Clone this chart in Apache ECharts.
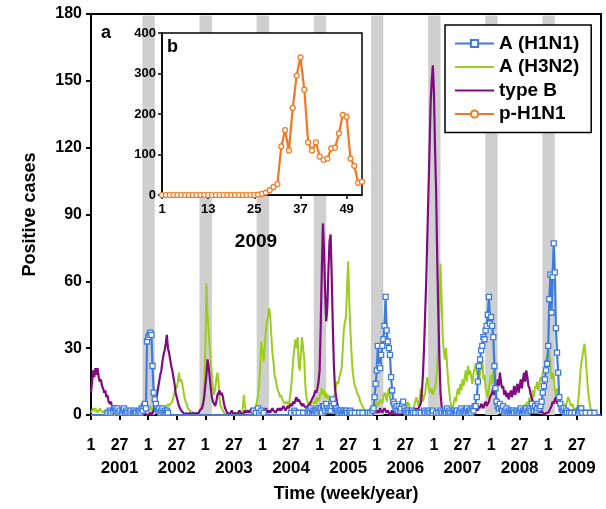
<!DOCTYPE html>
<html><head><meta charset="utf-8">
<script src="https://cdn.jsdelivr.net/npm/echarts@6/dist/echarts.min.js"></script>
<style>html,body{margin:0;padding:0;background:#fff}#c{width:606px;height:509px}</style>
</head><body><div id="c"></div>
<script>
// weekly positive cases, week index 0 = week 1 of 2001
const h1n1 = [
/*2001*/0,0,0,0,0,0,0,0,0,0,0,0,0,0,0,1,0,2,1,0,2,3,3,2,3,1,2,0,1,2,3,1,2,1,0,1,2,0,1,2,1,1,0,1,2,1,3,2,4,5,3,33,
/*2002*/35,36,37,36,22,10,7,5,3,2,3,1,2,3,1,2,1,2,1,0,0,0,0,0,0,0,0,0,0,0,0,0,0,0,0,0,0,0,0,0,0,0,0,0,0,0,0,0,0,0,0,0,
/*2003*/0,0,0,0,0,0,0,0,0,0,0,0,0,0,0,0,0,0,0,0,0,0,0,0,0,0,0,0,0,0,0,0,0,0,0,0,0,0,0,0,0,0,0,0,2,0,1,0,3,1,0,2,
/*2004*/0,1,0,0,0,0,0,0,0,0,0,0,0,0,0,0,0,0,0,0,0,0,0,0,0,0,1,0,0,2,1,0,0,1,0,0,0,1,0,0,0,1,2,1,3,1,2,1,2,2,1,3,
/*2005*/2,3,1,4,4,2,5,3,2,3,2,4,7,5,3,3,2,1,2,2,1,1,2,1,2,1,0,1,2,1,0,0,1,0,0,0,1,0,0,1,0,0,0,0,1,0,1,0,2,3,8,14,
/*2006*/20,31,22,21,27,31,34,40,53,38,33,30,27,17,11,6,5,3,4,2,4,2,3,5,6,3,2,1,2,1,0,1,2,1,0,1,0,0,1,0,1,0,0,2,1,0,1,2,1,0,1,2,
/*2007*/0,0,1,0,1,0,2,1,0,1,2,1,3,1,2,1,0,1,2,1,1,2,0,1,2,3,1,2,1,2,3,1,2,2,1,3,2,4,4,8,15,22,25,29,31,35,34,38,40,45,53,41,
/*2008*/44,40,35,22,12,6,4,3,5,3,2,4,1,2,3,1,2,1,2,1,2,1,0,1,2,1,2,3,1,2,1,2,3,1,2,3,2,5,3,2,4,2,3,5,3,4,6,10,13,16,20,23,
/*2009*/31,52,63,46,62,77,64,39,28,19,8,5,3,2,3,1,2,1,0,1,0,1,0,0,1,0,0,1,2,3,3,1,0,0,1,0,0,0,1,0,0,0,1,0,0,0,0,0,0
];
const h3n2 = [
/*2001*/1,2,3,2,3,2,1,2,3,2,2,1,2,1,1,0,1,0,0,1,0,0,0,1,0,0,0,0,1,0,0,0,0,0,1,0,0,0,0,1,0,1,1,0,1,1,2,1,2,2,3,2,
/*2002*/3,2,4,3,2,3,5,4,3,2,3,2,3,2,3,4,3,4,5,4,5,5,6,8,10,13,12,15,19,15,16,14,11,8,6,5,3,3,2,2,1,1,1,0,1,1,1,2,3,4,6,13,
/*2003*/28,59,45,38,30,25,18,12,9,12,16,19,15,7,4,3,2,1,0,1,0,0,1,0,0,0,1,0,0,1,0,0,1,0,3,9,4,2,1,1,2,1,2,3,2,3,4,6,9,14,22,33,
/*2004*/28,24,30,37,42,44,48,45,36,28,24,18,16,13,11,10,8,9,7,6,5,6,5,6,4,8,12,18,25,30,34,30,35,22,20,28,35,30,25,13,8,6,5,4,5,6,6,5,7,5,8,6,
/*2005*/8,10,12,9,11,8,10,7,9,6,8,6,7,8,10,13,15,14,17,19,21,29,38,42,44,58,69,50,38,28,20,16,13,12,10,10,8,6,5,4,3,2,2,1,1,0,1,0,1,2,3,5,
/*2006*/6,4,5,7,6,5,8,10,9,6,10,12,8,6,4,2,1,2,3,2,3,5,6,4,7,5,3,4,6,5,3,2,3,2,4,6,8,6,4,7,12,9,6,8,10,14,17,13,11,10,12,9,
/*2007*/9,12,15,22,32,48,68,52,35,28,25,30,22,15,10,6,4,3,5,8,6,10,12,9,14,11,16,13,17,20,15,22,18,20,17,14,19,21,23,18,20,15,19,22,25,16,18,12,10,8,12,15,
/*2008*/18,14,20,13,10,8,6,4,3,2,3,2,1,2,1,1,2,1,0,1,2,1,1,2,1,2,3,2,3,4,3,5,4,6,5,8,6,9,11,8,13,12,15,11,14,17,15,19,20,22,25,27,
/*2009*/28,29,22,16,19,17,12,8,12,7,5,4,3,2,3,5,4,6,8,7,5,4,5,3,2,3,2,5,10,18,23,26,29,32,26,19,12,8,4,2,1,1,0,0,0,0,0,0,0
];
const typeB = [
/*2001*/10,15,20,17,21,18,21,17,15,16,13,12,10,11,8,9,6,5,6,4,3,2,2,1,1,1,0,1,0,0,1,0,0,0,0,1,0,0,0,0,0,0,1,0,0,0,0,0,0,1,0,0,
/*2002*/0,0,1,0,1,2,4,6,9,12,15,18,20,24,27,29,32,36,30,28,25,22,20,17,14,10,8,6,4,3,2,2,1,1,0,1,0,0,1,0,0,1,0,0,1,0,1,2,2,3,5,8,
/*2003*/8,18,25,22,17,12,8,6,5,4,6,9,10,11,9,10,8,5,3,2,1,1,0,1,2,1,0,1,1,0,1,2,1,1,0,1,2,1,1,2,1,2,3,2,1,2,3,2,1,2,3,2,
/*2004*/2,1,2,3,2,1,2,1,2,3,2,2,1,2,3,2,3,2,3,4,3,2,3,4,3,4,5,4,6,5,7,8,6,7,6,5,4,5,4,4,3,4,4,5,6,7,8,9,11,10,12,15,
/*2005*/20,40,65,86,74,55,42,48,65,78,81,62,40,22,12,8,5,3,2,2,1,1,1,0,1,0,0,1,0,0,1,0,0,0,1,0,0,0,1,0,0,0,1,0,0,1,0,1,0,1,1,2,
/*2006*/1,2,1,3,2,1,2,3,2,1,2,1,0,1,2,1,0,1,1,0,1,0,1,1,2,1,0,1,2,1,1,2,1,2,3,2,3,2,3,4,5,10,18,30,45,60,80,100,120,140,150,157,
/*2007*/145,120,100,70,45,25,10,4,2,1,0,1,0,0,1,0,0,1,0,0,1,0,1,0,0,1,0,1,1,0,1,2,1,1,2,1,2,3,2,3,2,4,3,5,4,3,5,6,4,5,6,8,
/*2008*/8,10,12,9,14,11,16,13,19,15,12,13,9,11,8,10,7,9,11,8,10,13,9,12,14,10,13,16,12,16,19,15,20,17,13,12,9,8,6,4,3,2,2,1,2,1,2,1,1,0,1,1,
/*2009*/1,2,3,4,6,5,7,8,5,6,4,3,2,1,1,0,1,0,0,1,0,0,0,1,0,0,0,0,1,0,0,0,0,0,0,1,0,0,0,0,0,0,0,0,0,0,0,0,0
];
// inset b: p-H1N1, weeks 1..53 of 2009
const pH1N1 = [0,0,0,0,0,0,0,0,0,0,0,0,0,0,0,0,0,0,0,0,0,0,0,0,0,
  1,3,6,12,20,27,120,160,110,215,295,340,260,130,110,130,95,87,90,115,117,152,198,193,90,72,30,33];

const years = ['2001','2002','2003','2004','2005','2006','2007','2008','2009'];
const mainTicks = [];
for (let w = 0; w <= 442; w += 26) mainTicks.push(w);
const insetTicks = [1, 13, 25, 37, 49];
const bandYears = [1,2,3,4,5,6,7,8];

const F = '"Liberation Sans", Arial, sans-serif';
const BLUE = '#3d7be0', GREEN = '#9acd1e', PURPLE = '#810a81', ORANGE = '#f5761e';

const chart = echarts.init(document.getElementById('c'), null, {renderer: 'canvas'});
const lbl = {color: '#000', fontFamily: F, fontWeight: 'bold'};

chart.setOption({
  animation: false,
  textStyle: {fontFamily: F},
  grid: [
    {left: 91, top: 14, right: 5, bottom: 94, show: true, borderColor: '#000', borderWidth: 2},
    {left: 162, top: 33, width: 200, height: 162, show: true, backgroundColor: '#fff', borderColor: '#000', borderWidth: 1.5, z: 3}
  ],
  xAxis: [
    {type: 'value', gridIndex: 0, min: 0, max: 464,
     axisLine: {lineStyle: {color: '#000', width: 2}},
     axisTick: {customValues: mainTicks, length: 5, lineStyle: {color: '#000', width: 2}},
     axisLabel: Object.assign({}, lbl, {customValues: mainTicks, fontSize: 16, lineHeight: 23, margin: 19,
       formatter: v => (v % 52 === 0) ? '1' : '27\n{y|' + years[Math.floor(v / 52)] + '}',
       rich: {y: {fontSize: 17, fontWeight: 'bold', lineHeight: 23, color: '#000', fontFamily: F}}}),
     splitLine: {show: false},
     name: 'Time (week/year)', nameLocation: 'middle', nameGap: 70,
     nameTextStyle: Object.assign({}, lbl, {fontSize: 18})},
    {type: 'value', gridIndex: 1, min: 1, max: 53, z: 4,
     axisLine: {lineStyle: {color: '#000', width: 1.5}},
     axisTick: {customValues: insetTicks, length: 4, lineStyle: {color: '#000', width: 1.5}},
     axisLabel: Object.assign({}, lbl, {customValues: insetTicks, fontSize: 13, margin: 8}),
     splitLine: {show: false},
     name: '2009', nameLocation: 'middle', nameGap: 37,
     nameTextStyle: Object.assign({}, lbl, {fontSize: 19, padding: [0, 12, 0, 0]})}
  ],
  yAxis: [
    {type: 'value', gridIndex: 0, min: 0, max: 180, interval: 30,
     axisLine: {show: true, lineStyle: {color: '#000', width: 2}},
     axisTick: {show: true, length: 5, lineStyle: {color: '#000', width: 2}},
     axisLabel: Object.assign({}, lbl, {fontSize: 16, margin: 9}),
     splitLine: {show: false},
     name: 'Positive cases', nameLocation: 'middle', nameGap: 52,
     nameTextStyle: Object.assign({}, lbl, {fontSize: 18})},
    {type: 'value', gridIndex: 1, min: 0, max: 400, interval: 100, z: 4,
     axisLine: {show: true, lineStyle: {color: '#000', width: 1.5}},
     axisTick: {show: true, length: 4, lineStyle: {color: '#000', width: 1.5}},
     axisLabel: Object.assign({}, lbl, {fontSize: 13, margin: 6}),
     splitLine: {show: false}}
  ],
  legend: {
    data: [
      {name: 'A (H1N1)'},
      {name: 'A (H3N2)', itemStyle: {opacity: 0}},
      {name: 'type B', itemStyle: {opacity: 0}},
      {name: 'p-H1N1'}
    ],
    orient: 'vertical', left: 445, top: 25,
    padding: [9, 12, 9, 9], itemGap: 4.5, itemWidth: 39, itemHeight: 9,
    backgroundColor: '#fff', borderColor: '#000', borderWidth: 1.5,
    textStyle: Object.assign({}, lbl, {fontSize: 19}), z: 6
  },
  series: [
    {type: 'line', name: 'bands', xAxisIndex: 0, yAxisIndex: 0, data: [[0, 0]], symbol: 'none',
     lineStyle: {opacity: 0}, silent: true, z: 1,
     markArea: {silent: true, itemStyle: {color: '#cfcfcf'},
       data: bandYears.map(k => [{xAxis: 52 * k - 5.3, yAxis: 0}, {xAxis: 52 * k + 6, yAxis: 179.3}])}},
    {type: 'line', name: 'A (H3N2)', xAxisIndex: 0, yAxisIndex: 0, z: 2,
     data: h3n2.map((v, i) => [i, v]), symbol: 'none', showSymbol: false,
     lineStyle: {color: GREEN, width: 2}, itemStyle: {color: GREEN}},
    {type: 'line', name: 'type B', xAxisIndex: 0, yAxisIndex: 0, z: 3,
     data: typeB.map((v, i) => [i, v]), symbol: 'none', showSymbol: false,
     lineStyle: {color: PURPLE, width: 2.2}, itemStyle: {color: PURPLE}},
    {type: 'line', name: 'A (H1N1)', xAxisIndex: 0, yAxisIndex: 0, z: 4,
     data: h1n1.map((v, i) => ({value: [i, v], symbol: v > 0 ? 'rect' : 'none'})),
     symbol: 'rect', symbolSize: 5,
     lineStyle: {color: BLUE, width: 2.2}, itemStyle: {color: '#fff', borderColor: BLUE, borderWidth: 1.3}},
    {type: 'line', name: 'p-H1N1', xAxisIndex: 1, yAxisIndex: 1, z: 5,
     data: pH1N1.map((v, i) => [i + 1, v]), symbol: 'circle', symbolSize: 5,
     lineStyle: {color: ORANGE, width: 2.2}, itemStyle: {color: '#fff', borderColor: ORANGE, borderWidth: 1.2}}
  ],
  graphic: [
    {type: 'text', left: 101, top: 24, z: 10, style: {text: 'a', font: 'bold 18px "Liberation Sans", Arial', fill: '#000'}},
    {type: 'text', left: 167, top: 38, z: 10, style: {text: 'b', font: 'bold 18px "Liberation Sans", Arial', fill: '#000'}}
  ]
});
</script></body></html>
